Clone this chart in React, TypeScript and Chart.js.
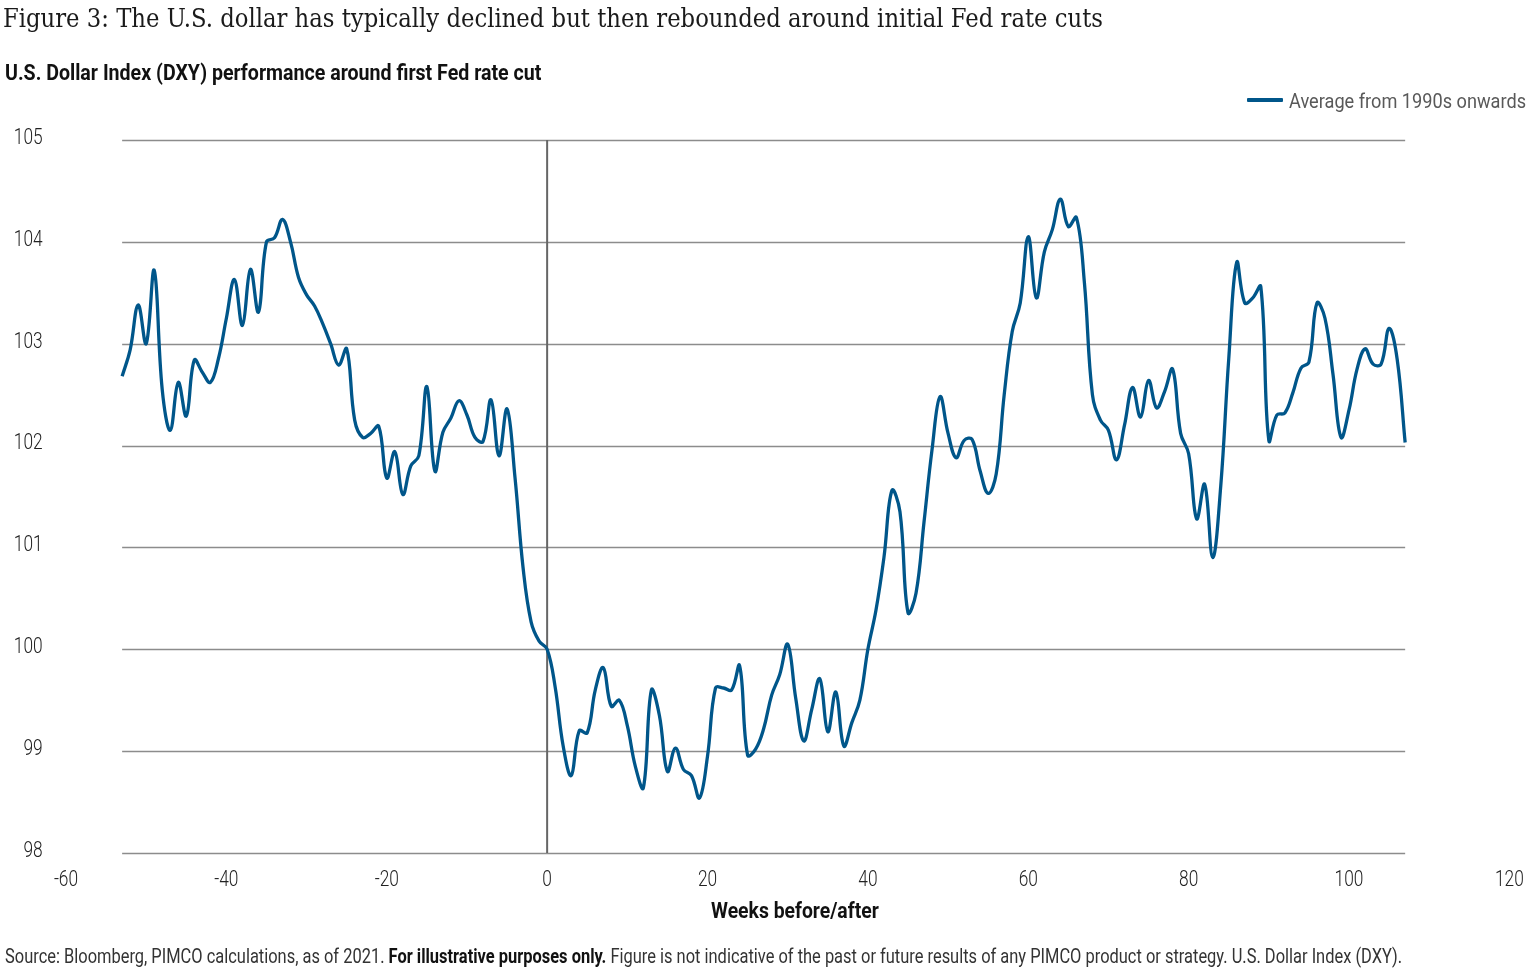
import React, { useEffect, useLayoutEffect, useRef } from "react";
import { Chart, registerables } from "chart.js";

Chart.register(...registerables);

const TITLE =
  "Figure 3: The U.S. dollar has typically declined but then rebounded around initial Fed rate cuts";
const SUBTITLE = "U.S. Dollar Index (DXY) performance around first Fed rate cut";
const SERIES_LABEL = "Average from 1990s onwards";
const X_TITLE = "Weeks before/after";

// First week of the series (weeks relative to the first Fed rate cut)
const FIRST_WEEK = -53;

// Average DXY level, one value per week from week -53 to week 107
const DXY_VALUES = [
  102.68, 102.94, 103.38, 103.0, 103.72, 102.55, 102.15, 102.62, 102.29, 102.84,
  102.72, 102.62, 102.85, 103.25, 103.63, 103.18, 103.73, 103.31, 104.0, 104.04,
  104.22, 104.0, 103.65, 103.48, 103.37, 103.2, 103.0, 102.79, 102.95, 102.25,
  102.08, 102.12, 102.19, 101.68, 101.94, 101.52, 101.8, 101.9, 102.58, 101.75,
  102.13, 102.27, 102.44, 102.3, 102.08, 102.04, 102.45, 101.9, 102.36, 101.68,
  100.8, 100.27, 100.08, 100.0, 99.63, 99.05, 98.76, 99.2, 99.18, 99.6,
  99.82, 99.44, 99.5, 99.25, 98.85, 98.64, 99.6, 99.35, 98.8, 99.03,
  98.82, 98.76, 98.54, 98.95, 99.62, 99.62, 99.6, 99.84, 98.96, 99.02,
  99.22, 99.55, 99.75, 100.05, 99.52, 99.1, 99.41, 99.71, 99.19, 99.58,
  99.05, 99.28, 99.5, 100.0, 100.38, 100.9, 101.56, 101.35, 100.36, 100.55,
  101.25, 101.96, 102.48, 102.12, 101.88, 102.05, 102.06, 101.75, 101.53, 101.72,
  102.5, 103.12, 103.4, 104.05, 103.45, 103.9, 104.12, 104.42, 104.15, 104.24,
  103.6, 102.5, 102.25, 102.15, 101.86, 102.2, 102.57, 102.28, 102.64, 102.37,
  102.53, 102.75, 102.12, 101.92, 101.28, 101.62, 100.9, 101.6, 102.85, 103.8,
  103.4, 103.45, 103.56, 102.05, 102.3, 102.32, 102.52, 102.76, 102.82, 103.4,
  103.25, 102.7, 102.08, 102.35, 102.75, 102.95, 102.8, 102.8, 103.15, 102.85,
  102.03,
];

const X_TICKS = [-60, -40, -20, 0, 20, 40, 60, 80, 100, 120];
const Y_TICKS = [98, 99, 100, 101, 102, 103, 104, 105];

const LINE_COLOR = "#00568a";

function FitText(props: {
  left: number;
  top: number;
  width: number;
  style?: React.CSSProperties;
  children: React.ReactNode;
}) {
  const ref = useRef<HTMLSpanElement>(null);
  useLayoutEffect(() => {
    const el = ref.current;
    if (!el) return;
    const fit = () => {
      el.style.transform = "none";
      const w = el.offsetWidth;
      if (w > 0) el.style.transform = `scaleX(${props.width / w})`;
    };
    fit();
    if ((document as any).fonts && (document as any).fonts.ready) {
      (document as any).fonts.ready.then(fit);
    }
  });
  return (
    <span
      ref={ref}
      style={{
        position: "absolute",
        left: props.left,
        top: props.top,
        whiteSpace: "nowrap",
        transformOrigin: "0 0",
        lineHeight: 1,
        display: "inline-block",
        ...props.style,
      }}
    >
      {props.children}
    </span>
  );
}

const guidePlugin = {
  id: "guides",
  beforeDatasetsDraw(chart: any) {
    const { ctx, scales } = chart;
    const xs = scales.x;
    const ys = scales.y;
    const x0 = xs.getPixelForValue(FIRST_WEEK);
    const x1 = xs.getPixelForValue(FIRST_WEEK + DXY_VALUES.length - 1);
    ctx.save();
    ctx.strokeStyle = "#8c8c8c";
    ctx.lineWidth = 1.3;
    for (const v of Y_TICKS) {
      const py = Math.round(ys.getPixelForValue(v)) + 0.5;
      ctx.beginPath();
      ctx.moveTo(x0, py);
      ctx.lineTo(x1, py);
      ctx.stroke();
    }
    const zx = xs.getPixelForValue(0);
    ctx.strokeStyle = "#666666";
    ctx.lineWidth = 2;
    ctx.beginPath();
    ctx.moveTo(zx, ys.getPixelForValue(Y_TICKS[Y_TICKS.length - 1]));
    ctx.lineTo(zx, ys.getPixelForValue(Y_TICKS[0]));
    ctx.stroke();
    ctx.restore();
  },
  afterDraw(chart: any) {
    const { ctx, scales } = chart;
    const xs = scales.x;
    const ys = scales.y;
    ctx.save();
    ctx.fillStyle = "#222222";
    ctx.font = "300 22.5px Roboto";
    ctx.textBaseline = "middle";
    for (const v of Y_TICKS) {
      const py = ys.getPixelForValue(v);
      ctx.save();
      ctx.translate(42.7, py - 1.8);
      ctx.scale(0.77, 1);
      ctx.textAlign = "right";
      ctx.fillText(String(v), 0, 0);
      ctx.restore();
    }
    for (const v of X_TICKS) {
      const px = xs.getPixelForValue(v);
      ctx.save();
      ctx.translate(px, 880);
      ctx.scale(0.77, 1);
      ctx.textAlign = "center";
      ctx.fillText(String(v), 0, 0);
      ctx.restore();
    }
    ctx.restore();
  },
};

export default function App() {
  const canvasRef = useRef<HTMLCanvasElement>(null);

  useEffect(() => {
    document.body.style.margin = "0";
    const canvas = canvasRef.current;
    if (!canvas) return;
    const points = DXY_VALUES.map((v, i) => ({ x: FIRST_WEEK + i, y: v }));
    const chart = new Chart(canvas, {
      type: "line",
      data: {
        datasets: [
          {
            label: SERIES_LABEL,
            data: points,
            borderColor: LINE_COLOR,
            borderWidth: 3.3,
            pointRadius: 0,
            tension: 0.4,
            fill: false,
          },
        ],
      },
      options: {
        responsive: false,
        devicePixelRatio: 1,
        animation: false,
        layout: { padding: { left: 0, right: 22.6, top: 140, bottom: 0 } },
        plugins: {
          legend: { display: false },
          tooltip: { enabled: false },
          title: { display: false },
        },
        scales: {
          x: {
            type: "linear",
            min: X_TICKS[0],
            max: X_TICKS[X_TICKS.length - 1],
            ticks: { display: false, stepSize: 20 },
            grid: { display: false },
            border: { display: false },
            afterFit: (s: any) => {
              s.height = 127;
            },
          },
          y: {
            type: "linear",
            min: Y_TICKS[0],
            max: Y_TICKS[Y_TICKS.length - 1],
            ticks: { display: false, stepSize: 1 },
            grid: { display: false },
            border: { display: false },
            afterFit: (s: any) => {
              s.width = 66;
            },
          },
        },
      },
      plugins: [guidePlugin],
    } as any);
    return () => chart.destroy();
  }, []);

  return (
    <div
      style={{
        position: "fixed",
        left: 0,
        top: 0,
        width: 1532,
        height: 980,
        background: "#ffffff",
        overflow: "hidden",
      }}
    >
      <canvas
        ref={canvasRef}
        width={1532}
        height={980}
        style={{ position: "absolute", left: 0, top: 0, width: 1532, height: 980 }}
      />
      <FitText
        left={3}
        top={5}
        width={1100}
        style={{ fontFamily: "'DejaVu Serif', serif", fontSize: 26.5, color: "#1a1a1a" }}
      >
        {TITLE}
      </FitText>
      <FitText
        left={5}
        top={61.5}
        width={536}
        style={{ fontFamily: "Roboto, sans-serif", fontWeight: 700, fontSize: 22, color: "#111111" }}
      >
        {SUBTITLE}
      </FitText>
      <div
        style={{
          position: "absolute",
          left: 1247,
          top: 98.2,
          width: 36,
          height: 3.6,
          background: LINE_COLOR,
          borderRadius: 1,
        }}
      />
      <FitText
        left={1289}
        top={90.6}
        width={237}
        style={{ fontFamily: "Roboto, sans-serif", fontSize: 21, color: "#595959" }}
      >
        {SERIES_LABEL}
      </FitText>
      <FitText
        left={711}
        top={899.5}
        width={168}
        style={{ fontFamily: "Roboto, sans-serif", fontWeight: 700, fontSize: 22, color: "#111111" }}
      >
        {X_TITLE}
      </FitText>
      <FitText
        left={5}
        top={946}
        width={1397}
        style={{ fontFamily: "Roboto, sans-serif", fontSize: 20, color: "#333333" }}
      >
        Source: Bloomberg, PIMCO calculations, as of 2021.{" "}
        <b style={{ color: "#111111" }}>For illustrative purposes only.</b> Figure is not indicative of the
        past or future results of any PIMCO product or strategy. U.S. Dollar Index (DXY).
      </FitText>
    </div>
  );
}
